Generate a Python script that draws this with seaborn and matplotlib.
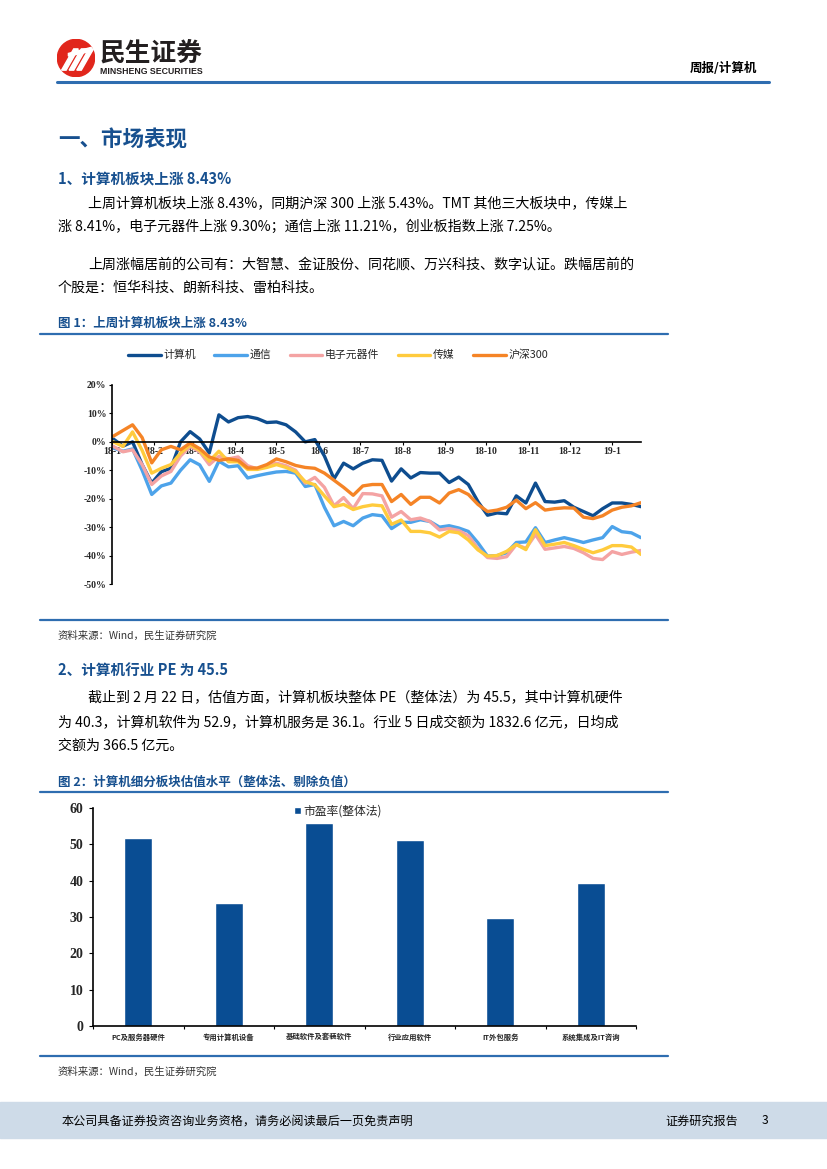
import numpy as np
import pandas as pd
import matplotlib
matplotlib.use("Agg")
import matplotlib.pyplot as plt
from matplotlib.patches import Rectangle, Circle, Polygon
from matplotlib.lines import Line2D
import seaborn as sns

# ---- figure 1: weekly cumulative change since early 2018 (%)
series_names = ["计算机", "通信", "电子元器件", "传媒", "沪深300"]
series_colors = ["#0E4D8F", "#4DA3EA", "#F4A3A3", "#FFCB3D", "#F58426"]
first_week = "2018-01-02"

computer = [1.0, -1.5, 0.0, -8.0, -14.5, -10.5, -9.3, 0.0, 3.6, 1.0,
            -3.9, 9.5, 7.0, 8.5, 8.9, 8.2, 6.8, 7.0, 6.0, 3.5,
            0.0, 0.8, -5.0, -13.0, -7.5, -9.5, -7.5, -6.3, -6.5, -13.8,
            -9.5, -12.7, -10.8, -11.0, -11.0, -14.3, -12.4, -15.0, -21.0, -25.8,
            -25.0, -25.3, -19.0, -21.5, -14.5, -21.0, -21.2, -20.7, -23.0, -24.5,
            -26.0, -23.5, -21.5, -21.5, -22.0, -22.8]
telecom = [-2.2, -3.3, -2.5, -10.0, -18.5, -15.5, -14.5, -10.0, -6.3, -8.1,
           -13.9, -6.8, -8.8, -8.4, -12.7, -11.9, -11.2, -10.6, -10.4, -11.0,
           -15.7, -15.0, -23.0, -29.5, -28.0, -29.5, -26.8, -25.6, -26.0, -30.5,
           -28.3, -28.3, -27.4, -28.0, -30.0, -29.5, -30.3, -31.5, -35.5, -40.2,
           -40.0, -39.0, -35.4, -35.2, -30.2, -35.4, -34.5, -33.7, -34.5, -35.4,
           -34.5, -33.7, -29.8, -31.6, -32.0, -33.7]
electronics = [-1.6, -3.5, -2.8, -8.0, -15.0, -12.0, -10.4, -5.0, -1.6, -3.5,
               -8.0, -5.1, -6.0, -5.3, -8.4, -9.5, -8.5, -7.5, -8.4, -10.0,
               -14.5, -12.5, -16.0, -22.5, -19.6, -23.5, -18.2, -18.3, -19.0, -26.5,
               -24.5, -27.4, -26.8, -28.0, -31.0, -30.5, -31.2, -33.0, -37.5, -40.7,
               -41.0, -40.4, -36.1, -37.5, -32.6, -37.8, -37.3, -36.8, -37.5, -39.0,
               -41.0, -41.4, -38.6, -39.6, -38.8, -38.2]
media = [0.0, -1.6, 3.5, -3.0, -11.0, -9.3, -8.0, -4.0, -1.0, -3.0,
         -6.8, -3.3, -7.0, -7.0, -9.7, -9.7, -9.0, -8.0, -9.0, -10.5,
         -14.0, -15.1, -19.0, -22.8, -22.0, -23.8, -22.8, -22.2, -22.5, -29.0,
         -27.5, -31.5, -31.5, -32.0, -33.5, -31.5, -32.0, -34.5, -38.0, -40.2,
         -40.0, -38.5, -36.1, -37.9, -30.9, -36.5, -36.0, -35.4, -36.5, -37.8,
         -39.0, -38.0, -36.5, -36.5, -37.0, -39.6]
hs300 = [2.0, 4.0, 6.0, 1.5, -7.4, -2.8, -1.6, -2.8, -0.4, -2.4,
         -5.3, -6.5, -6.0, -6.5, -9.2, -9.2, -8.0, -6.0, -7.0, -8.3,
         -9.0, -9.3, -11.0, -13.5, -16.0, -18.8, -15.5, -15.0, -15.0, -21.0,
         -18.5, -22.0, -19.5, -19.5, -21.5, -18.0, -16.8, -18.5, -22.0, -24.5,
         -24.0, -23.0, -20.5, -23.5, -21.4, -24.0, -23.5, -23.2, -23.3, -26.5,
         -27.0, -26.0, -24.0, -23.0, -22.5, -21.4]

month_labels = ["18-1", "18-2", "18-3", "18-4", "18-5", "18-6", "18-7",
                "18-8", "18-9", "18-10", "18-11", "18-12", "19-1"]
pct_ticks = [20, 10, 0, -10, -20, -30, -40, -50]

# ---- figure 2: PE by sub-sector
sectors = ["PC及服务器硬件", "专用计算机设备", "基础软件及套装软件",
           "行业应用软件", "IT外包服务", "系统集成及IT咨询"]
pe_values = [51.7, 33.8, 55.8, 51.3, 29.7, 39.4]
pe_ticks = [0, 10, 20, 30, 40, 50, 60]

W, H = 827, 1169
HEAD_BLUE = "#17508F"
LINE_BLUE = "#2E6DB0"
BAR_BLUE = "#094D93"
BODY = 10.1


def fx(px):
    return px / W


def fy(py):
    return 1 - py / H


sns.set_theme(style="white")
plt.rcParams["font.family"] = ["Noto Sans CJK SC", "DejaVu Sans"]

fig = plt.figure(figsize=(8.27, 11.69), dpi=100)


def txt(x, y, s, size, color="black", weight="normal", ha="left", family=None):
    kw = {"family": family} if family else {}
    fig.text(fx(x), fy(y), s, fontsize=size, color=color, weight=weight,
             ha=ha, va="center", **kw)


def hline(y, x0, x1, color=LINE_BLUE, lw=1.6):
    fig.add_artist(Line2D([fx(x0), fx(x1)], [fy(y), fy(y)], color=color, lw=lw))


# ---- header
lax = fig.add_axes([fx(57), fy(77), 38 / W, 38 / H])
lax.set_xlim(0, 1)
lax.set_ylim(0, 1)
lax.set_aspect("equal")
lax.axis("off")
lax.add_patch(Circle((0.5, 0.5), 0.49, color="#E1261C"))
for k in range(3):
    o = 0.2 * k
    lax.add_patch(Polygon([(0.12 + o, 0.18), (0.24 + o, 0.18),
                           (0.56 + o, 0.74), (0.44 + o, 0.74)],
                          closed=True, color="white"))
lax.add_patch(Polygon([(0.3, 0.62), (0.9, 0.78), (0.92, 0.68), (0.3, 0.55)],
                      closed=True, color="white"))
txt(100, 53, "民生证券", 18.5, color="#231F20", weight="bold")
txt(100, 71, "MINSHENG SECURITIES", 6.3, color="#231F20", weight="bold",
    family=["Liberation Sans"])
txt(757, 68, "周报/计算机", 9, weight="bold", ha="right")
hline(82, 57, 769, color=LINE_BLUE, lw=2.2)

# ---- section 1 text
txt(58, 140, "一、市场表现", 15.5, color=HEAD_BLUE, weight="bold")
txt(58, 178, "1、计算机板块上涨 8.43%", 10.5, color=HEAD_BLUE, weight="bold")
txt(88, 203, "上周计算机板块上涨 8.43%，同期沪深 300 上涨 5.43%。TMT 其他三大板块中，传媒上", BODY)
txt(58, 227, "涨 8.41%，电子元器件上涨 9.30%；通信上涨 11.21%，创业板指数上涨 7.25%。", BODY)
txt(88, 265, "上周涨幅居前的公司有：大智慧、金证股份、同花顺、万兴科技、数字认证。跌幅居前的", BODY)
txt(58, 288, "个股是：恒华科技、朗新科技、雷柏科技。", BODY)
txt(58, 323, "图 1：上周计算机板块上涨 8.43%", 9, color=HEAD_BLUE, weight="bold")
hline(334, 40, 668)

# ---- figure 1: line chart
dates = pd.date_range(first_week, periods=len(computer), freq="7D")
df1 = pd.DataFrame({
    "date": np.tile(dates, len(series_names)),
    "series": np.repeat(series_names, len(dates)),
    "value": np.concatenate([computer, telecom, electronics, media, hs300]),
})
ax1 = fig.add_axes([fx(112), fy(584), (641 - 112) / W, (584 - 385) / H])
sns.lineplot(data=df1, x="date", y="value", hue="series", hue_order=series_names,
             palette=dict(zip(series_names, series_colors)), lw=2.4, ax=ax1)
ax1.set_ylim(-50, 20)
ax1.set_xlim(pd.Timestamp("2018-01-01"), dates[-1])
ax1.set_yticks(pct_ticks)
ax1.set_yticklabels([f"{t}%" for t in pct_ticks])
month_starts = pd.date_range("2018-01-01", periods=len(month_labels), freq="MS")
ax1.set_xticks(month_starts)
ax1.set_xticklabels(month_labels)
ax1.set_xlabel("")
ax1.set_ylabel("")
for s in ["top", "right"]:
    ax1.spines[s].set_visible(False)
ax1.spines["bottom"].set_position(("data", 0))
for s in ["left", "bottom"]:
    ax1.spines[s].set_color("black")
    ax1.spines[s].set_linewidth(1.2)
ax1.tick_params(axis="both", length=2.5, width=0.8, color="black", pad=1.5,
                left=True, bottom=True)
for lab in ax1.get_xticklabels() + ax1.get_yticklabels():
    lab.set_family("Liberation Serif")
    lab.set_weight("bold")
    lab.set_fontsize(7)
handles, labels = ax1.get_legend_handles_labels()
ax1.legend(handles, labels, ncol=5, loc="center",
           bbox_to_anchor=(fx(338), fy(355)), bbox_transform=fig.transFigure,
           frameon=False, fontsize=7.8, handlelength=3.0, columnspacing=1.7,
           handletextpad=0.25)

hline(620, 40, 668)
txt(58, 636, "资料来源：Wind，民生证券研究院", 7.5, color="#333333")

# ---- section 2 text
txt(58, 670, "2、计算机行业 PE 为 45.5", 10.5, color=HEAD_BLUE, weight="bold")
txt(88, 697, "截止到 2 月 22 日，估值方面，计算机板块整体 PE（整体法）为 45.5，其中计算机硬件", BODY)
txt(58, 722, "为 40.3，计算机软件为 52.9，计算机服务是 36.1。行业 5 日成交额为 1832.6 亿元，日均成", BODY)
txt(58, 746, "交额为 366.5 亿元。", BODY)
txt(58, 782, "图 2：计算机细分板块估值水平（整体法、剔除负值）", 9, color=HEAD_BLUE, weight="bold")
hline(792, 40, 668)

# ---- figure 2: bar chart
ax2 = fig.add_axes([fx(93), fy(1026), (636 - 93) / W, (1026 - 808) / H])
sns.barplot(x=sectors, y=pe_values, color=BAR_BLUE, saturation=1, width=0.31,
            ax=ax2, label="市盈率(整体法)")
ax2.set_ylim(0, 60)
ax2.set_xlim(-0.5, len(sectors) - 0.5)
ax2.set_yticks(pe_ticks)
for s in ["top", "right"]:
    ax2.spines[s].set_visible(False)
for s in ["left", "bottom"]:
    ax2.spines[s].set_color("black")
    ax2.spines[s].set_linewidth(1.2)
ax2.set_xticks(np.arange(-0.5, len(sectors), 1.0), minor=True)
ax2.tick_params(axis="x", which="major", length=0, pad=5)
ax2.tick_params(axis="x", which="minor", length=2.5, width=0.8, color="black", bottom=True)
ax2.tick_params(axis="y", length=3, width=0.8, color="black", left=True, pad=4)
for lab in ax2.get_yticklabels():
    lab.set_family("Liberation Serif")
    lab.set_weight("bold")
    lab.set_fontsize(10)
for lab in ax2.get_xticklabels():
    lab.set_weight("bold")
    lab.set_fontsize(5.3)
ax2.legend(loc="center", bbox_to_anchor=(fx(338), fy(811)),
           bbox_transform=fig.transFigure, frameon=False, fontsize=8.5,
           handlelength=0.6, handleheight=0.6, handletextpad=0.2)

hline(1056, 40, 668)
txt(58, 1072, "资料来源：Wind，民生证券研究院", 7.5, color="#333333")

# ---- footer
fig.add_artist(Rectangle((0, fy(1138)), 1, 36 / H, transform=fig.transFigure,
                         color="#CEDBE8", zorder=0))
txt(62, 1121, "本公司具备证券投资咨询业务资格，请务必阅读最后一页免责声明", 8.7)
txt(665, 1121, "证券研究报告", 8.7)
txt(762, 1121, "3", 8.7)

fig.savefig("out.png", dpi=100)
